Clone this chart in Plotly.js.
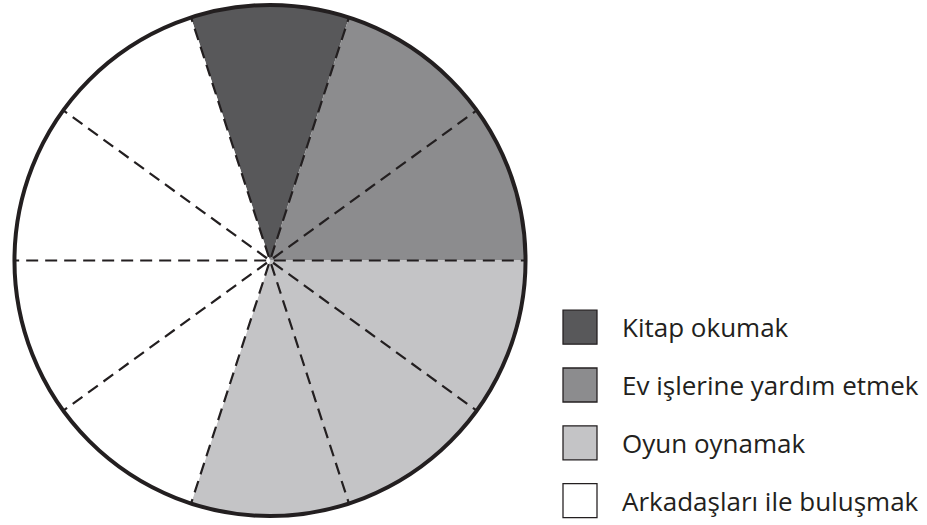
<!DOCTYPE html>
<html>
<head>
<meta charset="utf-8">
<script src="https://cdn.plot.ly/plotly-3.0.1.min.js"></script>
<style>html,body{margin:0;padding:0;background:#fff;}</style>
</head>
<body>
<div id="chart" style="width:927px;height:525px;"></div>
<script>
// Data
const categories = ["Kitap okumak", "Ev işlerine yardım etmek", "Oyun oynamak", "Arkadaşları ile buluşmak"];
const shares = [10, 20, 30, 40];            // percent of the circle
const colors = ["#58585a", "#8c8c8e", "#c4c4c6", "#ffffff"];
const sliceCount = 10;                        // dashed division lines

const traces = [];
let start = 0;
categories.forEach((name, i) => {
  const width = shares[i] * 3.6;
  traces.push({
    type: "barpolar",
    r: [1],
    theta: [start + width / 2],
    width: [width],
    name: name,
    marker: {color: colors[i], line: {width: 0}},
    showlegend: false,
    hoverinfo: "name"
  });
  start += width;
});

// dashed division lines (one every 360/sliceCount degrees)
const divR = [], divTheta = [];
for (let k = 0; k < sliceCount; k++) {
  const a = k * 360 / sliceCount;
  divR.push(0.015, 1, null);
  divTheta.push(a, a, null);
}
traces.push({
  type: "scatterpolar",
  r: divR, theta: divTheta,
  mode: "lines",
  line: {color: "#231f20", width: 2.2, dash: "12px,7px"},
  showlegend: false,
  hoverinfo: "skip"
});

// legend entries
categories.forEach((name, i) => {
  traces.push({
    type: "scatterpolar",
    r: [null], theta: [null],
    mode: "markers",
    name: name,
    legendgroup: "g" + i,
    marker: {symbol: "square", size: 16, color: colors[i], line: {color: "#231f20", width: 0.6}},
    showlegend: true
  });
});

const layout = {
  width: 927, height: 525,
  margin: {l: 0, r: 0, t: 0, b: 0},
  paper_bgcolor: "#fff",
  showlegend: true,
  font: {family: "Open Sans, sans-serif", color: "#231f20"},
  legend: {
    x: 538 / 927, y: 0.418, xanchor: "left", yanchor: "top",
    font: {size: 26, color: "#231f20"},
    tracegroupgap: 21,
    itemwidth: 74,
    bgcolor: "rgba(0,0,0,0)"
  },
  polar: {
    domain: {x: [13 / 927, 527 / 927], y: [6 / 525, 520 / 525]},
    bgcolor: "#fff",
    radialaxis: {visible: false, range: [0, 1], showgrid: false},
    angularaxis: {
      rotation: 108,
      direction: "clockwise",
      showticklabels: false,
      ticks: "",
      showgrid: false,
      layer: "above traces",
      showline: true,
      linecolor: "#231f20",
      linewidth: 4
    }
  }
};

Plotly.newPlot("chart", traces, layout, {displayModeBar: false, staticPlot: true}).then(() => {
  document.querySelectorAll(".legend .legendpoints path.scatterpts").forEach(p => {
    const t = p.getAttribute("transform") || "";
    p.setAttribute("transform", t + " scale(2.125)");
  });
});
</script>
</body>
</html>
